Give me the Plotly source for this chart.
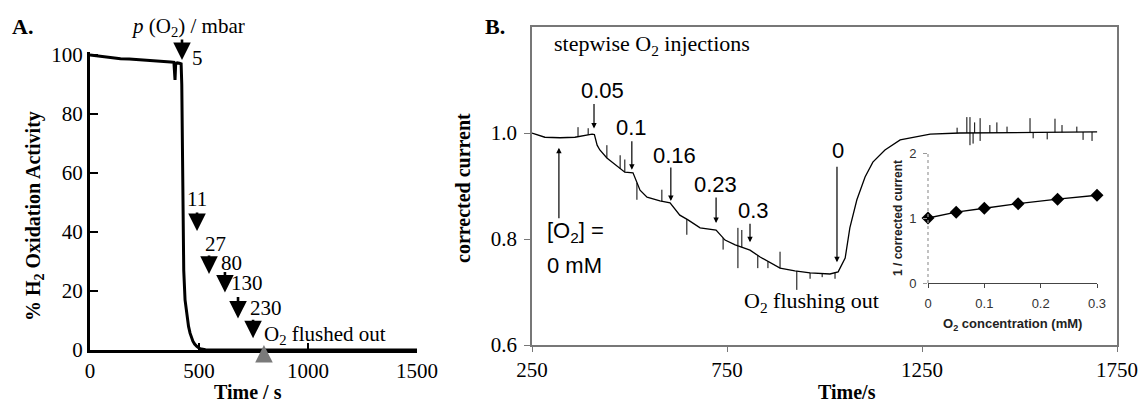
import numpy as np
import plotly.graph_objects as go

# ---------------- data ----------------
# Panel A: % H2 oxidation activity vs time
time_a = [0, 20, 60, 100, 140, 180, 230, 280, 330, 370, 385, 388, 390, 393, 400, 410, 418, 421,
          423, 425, 427, 430, 436, 445, 452, 459, 466, 472, 480, 490, 505, 530, 600, 800, 1000,
          1200, 1400, 1500]
activity_a = [100, 99.8, 99.5, 99.0, 98.7, 98.6, 98.4, 98.1, 97.9, 97.6, 97.5, 93, 91.5, 97, 97.3,
              97.2, 97.0, 90, 75, 55, 38, 27, 17, 11, 8, 5.7, 4, 3, 2, 1.2, 0.4, 0.1, 0, 0, 0, 0, 0, 0]
o2_a_times = [422, 491, 546, 619, 679, 748]
o2_a_labels = ["5", "11", "27", "80", "130", "230"]
flush_a_time = 798

# Panel B: corrected current vs time
time_b = [250, 283, 322, 360, 404, 410, 417, 424, 442, 463, 488, 509, 519, 527, 545, 578, 604,
          629, 650, 681, 722, 745, 771, 809, 835, 860, 886, 924, 963, 1014, 1035, 1053, 1065,
          1083, 1104, 1124, 1155, 1194, 1232, 1271, 1347, 1450, 1550, 1699]
current_b = [1.000, 0.992, 0.991, 0.992, 0.998, 0.997, 0.977, 0.968, 0.953, 0.940, 0.926, 0.925,
             0.906, 0.892, 0.879, 0.872, 0.868, 0.845, 0.836, 0.821, 0.817, 0.798, 0.789, 0.779,
             0.766, 0.755, 0.745, 0.740, 0.736, 0.734, 0.738, 0.764, 0.821, 0.874, 0.917, 0.945,
             0.968, 0.987, 0.992, 0.998, 1.000, 1.000, 1.001, 1.002]
# noise spikes (time, extreme value)
spike_t = [368, 394, 442, 476, 488, 519, 583, 647, 740, 778, 778, 788, 829, 855, 886, 929, 963,
           994, 1027, 1340, 1365, 1373, 1373, 1381, 1385, 1399, 1399, 1424, 1442, 1468, 1527,
           1535, 1571, 1591, 1609, 1647, 1663, 1686]
spike_v = [1.011, 1.009, 0.977, 0.958, 0.950, 0.874, 0.893, 0.808, 0.780, 0.745, 0.821, 0.817,
           0.745, 0.745, 0.776, 0.704, 0.725, 0.728, 0.725, 1.010, 1.030, 1.030, 0.977, 0.980,
           1.020, 1.028, 0.985, 1.015, 1.020, 1.012, 1.028, 0.990, 0.988, 1.027, 1.015, 1.012,
           0.987, 0.985]
inj_b_times = [409, 506, 606, 722, 809]
inj_b_labels = ["0.05", "0.1", "0.16", "0.23", "0.3"]
flush_b_time = 1032
start_b_time = 319

# Inset
o2_conc = [0, 0.05, 0.1, 0.16, 0.23, 0.3]
inv_current = [1.0, 1.09, 1.15, 1.22, 1.29, 1.35]

# ---------------- figure ----------------
W, H = 1147, 403
SERIF = "Liberation Serif"
SANS = "Liberation Sans"


def px(x):
    return x / W


def py(y):
    return 1 - y / H


fig = go.Figure()

fig.add_trace(go.Scatter(x=time_a, y=activity_a, mode="lines", xaxis="x", yaxis="y",
                         line=dict(color="black", width=3), showlegend=False))

fig.add_trace(go.Scatter(x=time_b, y=current_b, mode="lines", xaxis="x2", yaxis="y2",
                         line=dict(color="black", width=1.3), showlegend=False))

base_at_spikes = np.interp(spike_t, time_b, current_b)
sx, sy = [], []
for t, v, b in zip(spike_t, spike_v, base_at_spikes):
    sx += [t, t, None]
    sy += [b, v, None]
fig.add_trace(go.Scatter(x=sx, y=sy, mode="lines", xaxis="x2", yaxis="y2",
                         line=dict(color="black", width=1), showlegend=False))

fig.add_trace(go.Scatter(x=o2_conc, y=inv_current, mode="lines+markers", xaxis="x3", yaxis="y3",
                         line=dict(color="black", width=1.3),
                         marker=dict(symbol="diamond", size=10, color="black"),
                         cliponaxis=False, showlegend=False))

ann = []


def text_at(xp, yp, text, font, xanchor="center", angle=0, align="center"):
    ann.append(dict(x=px(xp), y=py(yp), xref="paper", yref="paper", xanchor=xanchor,
                    yanchor="middle", text=text, showarrow=False, textangle=angle,
                    align=align, font=font))


serif20 = dict(family=SERIF, size=20, color="black")
serif21 = dict(family=SERIF, size=21, color="black")
serif22 = dict(family=SERIF, size=22, color="black")
sans22 = dict(family=SANS, size=22, color="black")

# ---- Panel A annotations ----
tipA = [98.3, 40.3, 25.8, 19.5, 10.7, 4.0]
tailA = [-22, -20, -20, -22, -23, -20]
labA_dx = [15, 0, 6, 7, 9, 13]
labA_dy = [2, 32, 30, 29, 35, 30]
for t, lab, tip, tl, dx, dy in zip(o2_a_times, o2_a_labels, tipA, tailA, labA_dx, labA_dy):
    ann.append(dict(x=t, y=tip, xref="x", yref="y", text="", showarrow=True, ax=0, ay=tl,
                    arrowhead=2, arrowsize=1.35, arrowwidth=2.6, arrowcolor="black", standoff=0))
    ann.append(dict(x=t, y=tip, xref="x", yref="y", text=lab, showarrow=False, xshift=dx, yshift=dy,
                    xanchor="center", yanchor="middle", font=serif21))
ann.append(dict(x=flush_a_time, y=1.7, xref="x", yref="y", text="", showarrow=True, ax=0, ay=18,
                arrowhead=2, arrowsize=1.35, arrowwidth=2.6, arrowcolor="#7a7a7a", standoff=0))
text_at(262, 335, "O<sub>2</sub> flushed out", serif21, xanchor="left")
text_at(188, 27, "<i>p</i> (O<sub>2</sub>) / mbar", serif21)
text_at(10, 27, "<b>A.</b>", serif22, xanchor="left")
text_at(35, 216, "<b>% H<sub>2</sub> Oxidation Activity</b>", serif20, angle=-90)
text_at(248, 392, "<b>Time / s</b>", serif20)

# ---- Panel B annotations ----
tip_gap = [6, 3, 3, 7, 8]
tail_len = [26, 30, 35, 27, 20]
labB_dx = [8, 0, 4, -1, 3]
labB_dy = [38, 42, 45, 38, 32]
tips_b = np.interp(inj_b_times, time_b, current_b)
for t, lab, tv, g, tl, dx, dy in zip(inj_b_times, inj_b_labels, tips_b, tip_gap, tail_len, labB_dx, labB_dy):
    ann.append(dict(x=t, y=tv, xref="x2", yref="y2", text="", showarrow=True, ax=0, ay=-tl, yshift=g,
                    arrowhead=2, arrowsize=0.9, arrowwidth=1.2, arrowcolor="black", standoff=0))
    ann.append(dict(x=t, y=tv, xref="x2", yref="y2", text=lab, showarrow=False, xshift=dx, yshift=g + dy,
                    xanchor="center", yanchor="middle", font=sans22))
fv = float(np.interp(flush_b_time, time_b, current_b))
ann.append(dict(x=flush_b_time, y=fv, xref="x2", yref="y2", text="", showarrow=True, ax=0, ay=-97,
                yshift=10, arrowhead=2, arrowsize=0.9, arrowwidth=1.2, arrowcolor="black", standoff=0))
ann.append(dict(x=flush_b_time, y=fv, xref="x2", yref="y2", text="0", showarrow=False, xshift=1,
                yshift=122, xanchor="center", yanchor="middle", font=sans22))
sv = float(np.interp(start_b_time, time_b, current_b))
ann.append(dict(x=start_b_time, y=sv, xref="x2", yref="y2", text="", showarrow=True, ax=0, ay=72,
                yshift=-10, arrowhead=2, arrowsize=0.9, arrowwidth=1.2, arrowcolor="black", standoff=0))
text_at(545, 232, "[O<sub>2</sub>] =", sans22, xanchor="left")
text_at(545, 265, "0 mM", sans22, xanchor="left")
text_at(742, 302, "O<sub>2</sub> flushing out", serif22, xanchor="left")
text_at(552, 45, "stepwise O<sub>2</sub> injections", serif22, xanchor="left")
text_at(483, 27, "<b>B.</b>", serif22, xanchor="left")
text_at(463, 188, "<b>corrected current</b>", serif20, angle=-90)
text_at(847, 392, "<b>Time/s</b>", serif20)
# inset titles
text_at(898, 218, "<b>1 / corrected current</b>", dict(family=SANS, size=12, color="#222"), angle=-90)
text_at(1012, 324, "<b>O<sub>2</sub> concentration (mM)</b>", dict(family=SANS, size=13, color="#222"))

shapes = [dict(type="line", xref="x3 domain", yref="y3 domain", x0=0, x1=0, y0=0, y1=1,
               line=dict(color="#999", width=1.2, dash="dot"))]

common = dict(showgrid=False, zeroline=False, automargin=False)

fig.update_layout(
    width=W, height=H, margin=dict(l=0, r=0, t=0, b=0, autoexpand=False),
    paper_bgcolor="white", plot_bgcolor="white", showlegend=False,
    annotations=ann, shapes=shapes,
    xaxis=dict(domain=[px(90), px(417)], range=[0, 1500], anchor="y",
               showline=True, linewidth=3, linecolor="black", ticks="inside", ticklen=7,
               tickwidth=2, tickcolor="black", tickvals=[0, 500, 1000, 1500],
               tickfont=serif21, **common),
    yaxis=dict(domain=[py(350), py(52)], range=[0, 101], anchor="x",
               showline=True, linewidth=3, linecolor="black", ticks="inside", ticklen=8,
               tickwidth=2, tickcolor="black", tickvals=[0, 20, 40, 60, 80, 100],
               tickfont=serif21, **common),
    xaxis2=dict(domain=[px(532), px(1117)], range=[250, 1750], anchor="y2",
                showline=True, mirror=True, linewidth=1.5, linecolor="#777", ticks="outside",
                ticklen=5, tickcolor="#777", tickvals=[250, 750, 1250, 1750],
                tickfont=serif21, **common),
    yaxis2=dict(domain=[py(345), py(27)], range=[0.6, 1.2], anchor="x2",
                showline=True, mirror=True, linewidth=1.5, linecolor="#777", ticks="outside",
                ticklen=6, tickcolor="#777", tickvals=[0.6, 0.8, 1.0], ticktext=["0.6", "0.8", "1.0"],
                tickfont=serif21, ticklabelstandoff=3, **common),
    xaxis3=dict(domain=[px(928), px(1097)], range=[0, 0.3], anchor="y3",
                showline=True, linewidth=1.2, linecolor="#444", ticks="outside", ticklen=4,
                tickcolor="#444", tickvals=[0, 0.1, 0.2, 0.3], ticktext=["0", "0.1", "0.2", "0.3"],
                tickfont=dict(family=SANS, size=13, color="#333"), ticklabelstandoff=4, **common),
    yaxis3=dict(domain=[py(283), py(153)], range=[0, 2], anchor="x3",
                showline=False, ticks="outside", ticklen=4, tickcolor="#999",
                tickvals=[0, 1, 2], tickfont=dict(family=SANS, size=13, color="#333"),
                ticklabelstandoff=4, **common),
)

fig.write_html("out.html")
